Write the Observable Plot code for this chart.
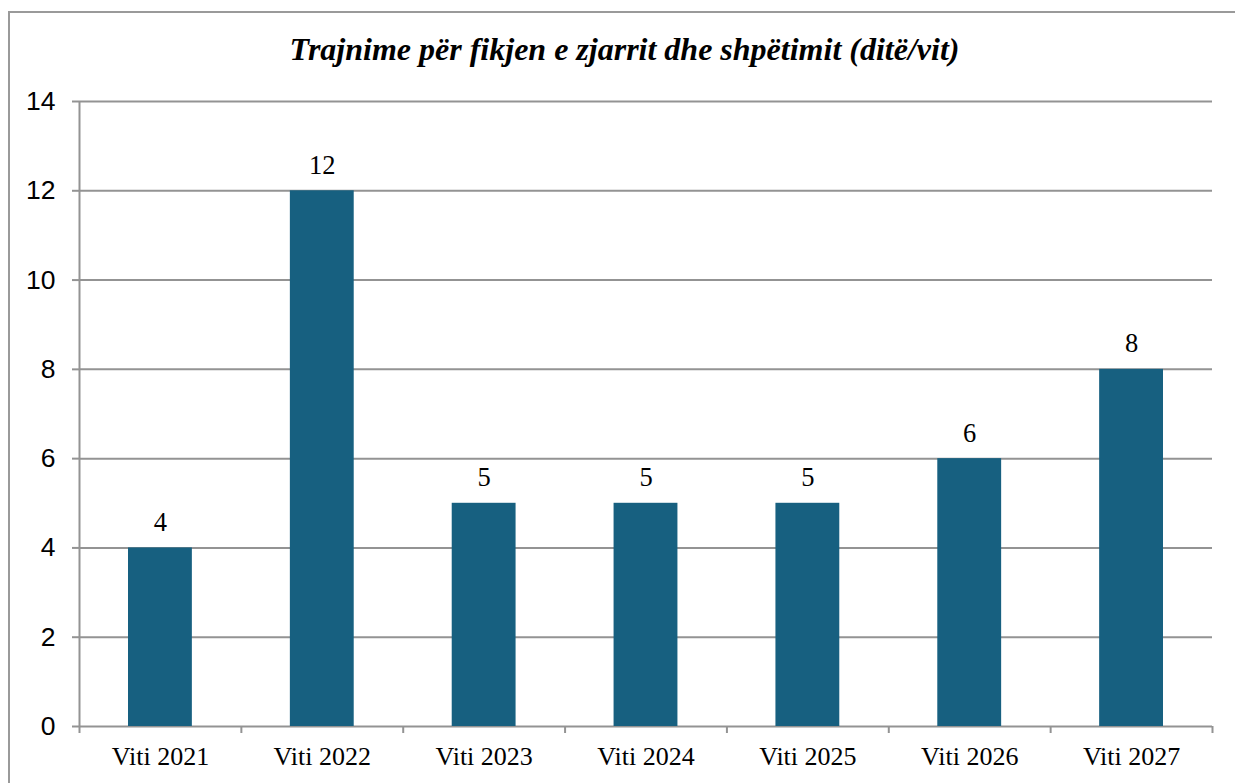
<!DOCTYPE html>
<html>
<head>
<meta charset="utf-8">
<script src="https://cdn.jsdelivr.net/npm/d3@7"></script>
<script src="https://cdn.jsdelivr.net/npm/@observablehq/plot@0.6"></script>
<style>
  html, body { margin: 0; padding: 0; background: #fff; }
  body { width: 1235px; height: 783px; overflow: hidden; position: relative; }
  #frame { position: absolute; left: 8px; top: 11px; width: 1300px; height: 900px; border: 2px solid #9a9a9a; box-sizing: border-box; }
  #title { position: absolute; left: 0; top: 31px; width: 1235px; padding-left: 14px; box-sizing: border-box; text-align: center;
           font-family: "Liberation Serif", "Times New Roman", serif; font-weight: bold; font-style: italic; font-size: 32px; line-height: normal; color: #000; }
  #chart { position: absolute; left: 0; top: 80px; }
</style>
</head>
<body>
<div id="frame"></div>
<div id="title">Trajnime për fikjen e zjarrit dhe shpëtimit (ditë/vit)</div>
<div id="chart"></div>
<script>
const categories = ["Viti 2021", "Viti 2022", "Viti 2023", "Viti 2024", "Viti 2025", "Viti 2026", "Viti 2027"];
const values = [4, 12, 5, 5, 5, 6, 8];
const yTicks = [0, 2, 4, 6, 8, 10, 12, 14];

const data = categories.map((c, i) => ({cat: c, i, value: values[i]}));
const boundaries = d3.range(categories.length + 1);
const centers = categories.map((c, i) => i + 0.5);

const grey = "#939393";
const serif = "'Liberation Serif', 'Times New Roman', serif";
const sans = "'Liberation Sans', Arial, sans-serif";

const chart = Plot.plot({
  width: 1235,
  height: 703,
  marginTop: 21,
  marginBottom: 57,
  marginLeft: 79,
  marginRight: 23,
  style: {background: "transparent", overflow: "visible"},
  x: {type: "linear", domain: [0, categories.length]},
  y: {domain: [0, 14]},
  marks: [
    Plot.ruleY(yTicks, {stroke: grey, strokeWidth: 2}),
    Plot.ruleX([0], {stroke: grey, strokeWidth: 2}),
    Plot.axisY({ticks: yTicks, tickSize: 7, tickPadding: 17, stroke: grey, strokeWidth: 2, fill: "#000",
                fontSize: 26.5, fontFamily: sans, label: null}),
    Plot.axisX({ticks: boundaries, tickSize: 7, tickFormat: () => "", stroke: grey, strokeWidth: 2, label: null}),
    Plot.axisX({ticks: centers, tickSize: 0, tickPadding: 20, tickFormat: (d) => categories[Math.floor(d)],
                fill: "#000", fontSize: 26, fontFamily: serif, label: null}),
    Plot.rectY(data, {x1: "i", x2: (d) => d.i + 1, y: "value", fill: "#176080", insetLeft: 49, insetRight: 49}),
    Plot.text(data, {x: (d) => d.i + 0.5, y: "value", text: (d) => String(d.value), dy: -17, lineAnchor: "bottom",
                     fill: "#000", fontSize: 26.5, fontFamily: serif})
  ]
});
document.getElementById("chart").appendChild(chart);
</script>
</body>
</html>
